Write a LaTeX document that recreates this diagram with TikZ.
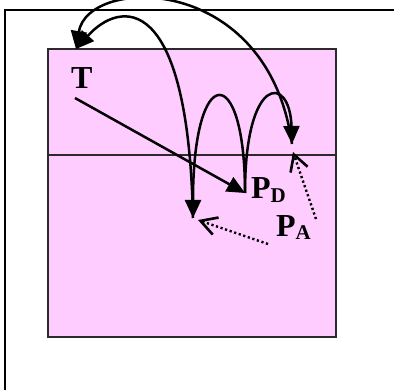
\documentclass[tikz,border=0pt]{standalone}
\usepackage{fontspec}
\setmainfont{Liberation Serif}
\usetikzlibrary{arrows.meta}
\definecolor{PlanePink}{HTML}{FFCCFF}
\definecolor{PlaneEdge}{HTML}{2B2B2B}

\begin{document}
\begin{tikzpicture}[
    x=1pt, y=-1pt,
    plane/.style={
      draw=PlaneEdge,
      fill=PlanePink,
      line width=1.8pt
    },
    lbl/.style={
      font=\fontsize{32}{32}\selectfont\bfseries,
      inner sep=0pt,
      anchor=base west
    },
    hop/.style={
      -{Triangle[length=18pt,width=16pt]},
      line width=2.5pt
    },
    probe/.style={
      -{Straight Barb[length=16pt,width=18pt,line width=2.6pt]},
      line width=2.4pt,
      dash pattern=on 2.2pt off 2.6pt
    }
  ]
  \useasboundingbox (0,0) rectangle (394,390);

  % Frame
  \draw[line width=2.4pt] (5,390) -- (5,10) -- (394,10);

  % Plane
  \draw[plane] (48,49) rectangle (336,337);
  \draw[PlaneEdge, line width=1.5pt] (48,155) -- (336,155);

  % Labels
  \node[lbl] (T) at (71,89) {T};
  \node[lbl] (PD) at (251,199) {P\raisebox{-4pt}{\fontsize{21}{21}\selectfont D}};
  \node[lbl] (PA) at (276,237) {P\raisebox{-3pt}{\fontsize{21}{21}\selectfont A}};

  % Ends of the hops
  \coordinate (tTop) at (76,49);
  \coordinate (tFoot) at (75,98);
  \coordinate (pdTip) at (245,193);
  \coordinate (landL) at (193,218);
  \coordinate (landR) at (292,144);
  \coordinate (paL) at (268,244);
  \coordinate (paR) at (316,219);
  \coordinate (aimL) at (198,220);
  \coordinate (aimR) at (293,152);

  % Hops
  \draw[hop] (tFoot) -- (pdTip);
  \draw[hop] (pdTip) .. controls (245,74) and (290,74) .. (landR);
  \draw[hop] (pdTip) .. controls (245,61) and (193,61) .. (landL);
  \draw[hop] (landL) .. controls (188,-10) and (120,0) .. (tTop);
  \draw[hop] (landR) .. controls (268,-28) and (88,-24) .. (tTop);

  % Probes
  \draw[probe] (paL) -- (aimL);
  \draw[probe] (paR) -- (aimR);

\end{tikzpicture}
\end{document}
